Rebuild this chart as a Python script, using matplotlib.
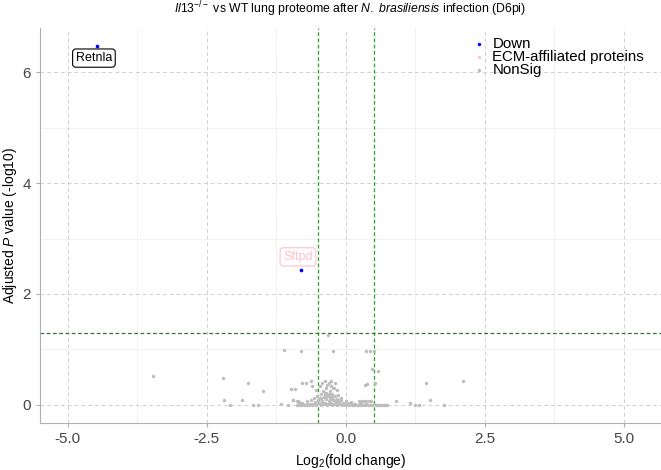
import matplotlib
matplotlib.use("Agg")
import matplotlib.pyplot as plt

plt.rcParams["font.family"] = ["Liberation Sans", "DejaVu Sans"]
plt.rcParams["mathtext.fontset"] = "custom"
plt.rcParams["mathtext.rm"] = "Liberation Sans"
plt.rcParams["mathtext.it"] = "Liberation Sans:italic"

# significant (down) proteins
down_genes = ["Retnla", "Sftpd"]
down_x = [-4.48, -0.81]
down_y = [6.47, 2.43]
label_colors = ["black", "pink"]

# non significant, scattered
ns_x = [-3.47, -2.21, -1.75, -1.49, -2.19, -2.09, -1.87, -1.66, -1.57, -1.16,
        -1.04, -0.95, -0.87, -1.11, -0.80, -0.32, -0.23, 0.37, 0.44, 0.50,
        0.48, 0.58, 0.53, 0.35, 0.39, -0.98, -0.92, -0.78, -0.72, -0.63,
        -0.60, -0.53, -0.46, -0.42, -0.37, -0.38, -0.30, -0.23, -0.27, -0.19,
        -0.30, -0.23, -0.35, -0.33, -0.26, -0.41, -0.36, -0.31, -0.16, -0.21,
        0.24, 0.30, 0.37, 0.42, 0.46, 0.91, 1.16, 1.24, 1.31, 1.45,
        1.52, 1.77, 2.10, -0.95, -0.86,
        -0.85, -0.78, -0.70, -0.62, -0.58, -0.55, -0.52, -0.48, -0.45, -0.42,
        -0.40, -0.38, -0.35, -0.33, -0.30, -0.28, -0.26, -0.24, -0.22, -0.20,
        -0.18, -0.16, -0.14, -0.12, -0.10, -0.08, -0.05, 0.00, 0.05, 0.10,
        0.15, 0.28, 0.32, -0.50, -0.44, -0.34, -0.29, -0.25, -0.13, -0.09]
ns_y = [0.51, 0.49, 0.40, 0.25, 0.08, 0.00, 0.09, 0.00, 0.00, 0.02,
        0.00, 0.09, 0.07, 0.98, 0.97, 1.26, 0.97, 0.97, 0.97, 0.97,
        0.64, 0.61, 0.40, 0.35, 0.37, 0.28, 0.28, 0.39, 0.39, 0.43,
        0.34, 0.26, 0.34, 0.40, 0.43, 0.18, 0.16, 0.09, 0.34, 0.39,
        0.39, 0.31, 0.30, 0.36, 0.42, 0.24, 0.22, 0.19, 0.27, 0.31,
        0.07, 0.07, 0.07, 0.07, 0.07, 0.07, 0.03, 0.00, 0.00, 0.40,
        0.09, 0.00, 0.43, 0.08, 0.06,
        0.05, 0.04, 0.06, 0.08, 0.12, 0.05, 0.15, 0.10, 0.20, 0.07,
        0.14, 0.22, 0.10, 0.18, 0.06, 0.25, 0.12, 0.20, 0.08, 0.15,
        0.05, 0.10, 0.18, 0.04, 0.08, 0.12, 0.03, 0.06, 0.03, 0.05,
        0.02, 0.05, 0.07, 0.09, 0.13, 0.16, 0.11, 0.14, 0.06, 0.09]

# dense row of proteins with adjusted P close to 1
base_x = [-0.88, -0.85, -0.83, -0.80, -0.77, -0.75, -0.72, -0.70, -0.67, -0.64,
          -0.61, -0.59, -0.56, -0.53, -0.51, -0.48, -0.45, -0.43, -0.40, -0.37,
          -0.34, -0.32, -0.29, -0.26, -0.24, -0.21, -0.18, -0.15, -0.13, -0.10,
          -0.07, -0.05, -0.02, 0.01, 0.04, 0.06, 0.09, 0.12, 0.15, 0.17,
          0.20, 0.23, 0.26, 0.28, 0.31, 0.34, 0.37, 0.40, 0.42, 0.45,
          0.48, 0.51, 0.54, 0.57, 0.60, 0.63, 0.66, 0.69, 0.72, 0.75]
base_y = [0.00, 0.01, 0.00, 0.00, 0.01, 0.00, 0.00, 0.01, 0.00, 0.02,
          0.00, 0.01, 0.02, 0.00, 0.01, 0.03, 0.00, 0.02, 0.01, 0.03,
          0.00, 0.02, 0.01, 0.03, 0.00, 0.02, 0.01, 0.00, 0.02, 0.01,
          0.00, 0.01, 0.00, 0.01, 0.00, 0.00, 0.01, 0.00, 0.00, 0.01,
          0.00, 0.00, 0.01, 0.00, 0.00, 0.00, 0.01, 0.00, 0.00, 0.00,
          0.00, 0.01, 0.00, 0.00, 0.00, 0.00, 0.00, 0.00, 0.00, 0.00]

x_ticks = [-5.0, -2.5, 0.0, 2.5, 5.0]
y_ticks = [0, 2, 4, 6]
fc_cut = 0.5
p_cut = 1.301

fig = plt.figure(figsize=(6.61, 4.70), dpi=100)
ax = fig.add_axes([0.0605, 0.1, 0.9395, 0.84])

grey = "#bdbdbd"
ax.scatter(base_x, base_y, s=6, color=grey, linewidths=0, zorder=3)
ax.scatter(ns_x, ns_y, s=6, color=grey, linewidths=0, zorder=3)
ax.scatter(down_x, down_y, s=7, color="blue", linewidths=0, zorder=4)

ax.axvline(-fc_cut, color="#2ca02c", ls=(0, (3, 2)), lw=0.9, zorder=2)
ax.axvline(fc_cut, color="#2ca02c", ls=(0, (3, 2)), lw=0.9, zorder=2)
ax.axhline(p_cut, color="#3d6b3d", ls=(0, (3, 2)), lw=0.9, zorder=2)

# labels
offs = [-0.21, 0.24]
for g, x, y, c, o in zip(down_genes, down_x, down_y, label_colors, offs):
    ax.text(x - 0.05, y + o, g, color=c, fontsize=9, ha="center", va="center",
            bbox=dict(boxstyle="round,pad=0.25", fc="white", ec=c, lw=0.8),
            zorder=5)

ax.set_xlim(-5.5, 5.67)
ax.set_ylim(-0.33, 6.8)
ax.set_xticks(x_ticks)
ax.set_xticklabels([f"{v:.1f}" for v in x_ticks])
ax.set_yticks(y_ticks)
ax.set_xticks([-3.75, -1.25, 1.25, 3.75], minor=True)
ax.set_yticks([1, 3, 5], minor=True)
ax.grid(True, which="major", color="#d0d0d0", ls=(0, (4, 3)), lw=0.7)
ax.grid(True, which="minor", color="#e0e0e0", ls=(0, (1, 1)), lw=0.6)
ax.set_axisbelow(True)
ax.tick_params(which="minor", length=0)
ax.tick_params(which="major", length=3, color="#b0b0b0", labelcolor="#444444",
               labelsize=11)
for s in ["top", "right"]:
    ax.spines[s].set_visible(False)
for s in ["left", "bottom"]:
    ax.spines[s].set_color("#b0b0b0")

ax.set_xlabel("Log$_2$(fold change)", fontsize=10, va="center")
ax.xaxis.set_label_coords(0.5, -0.096)
ax.set_ylabel("Adjusted $\\mathit{P}$ value (-log10)", fontsize=10)
ax.yaxis.set_label_coords(-0.034, 0.5)
fig.text(0.53, 1 - 9 / 470, "$\\mathit{Il13}^{-/-}$ vs WT lung proteome after "
         "$\\mathit{N.}$ $\\mathit{brasiliensis}$ infection (D6pi)",
         fontsize=8.8, ha="center", va="center")

h1 = ax.scatter([], [], s=6, color="blue", linewidths=0)
h2 = ax.scatter([], [], s=6, color="pink", linewidths=0)
h3 = ax.scatter([], [], s=6, color=grey, linewidths=0)
ax.legend([h1, h2, h3], ["Down", "ECM-affiliated proteins", "NonSig"],
          loc="upper left", bbox_to_anchor=(0.68, 1.0), frameon=False,
          fontsize=10.8, handletextpad=0.4, labelspacing=-0.08,
          borderaxespad=0.2, handlelength=1.0)

fig.savefig("out.png", dpi=100)
